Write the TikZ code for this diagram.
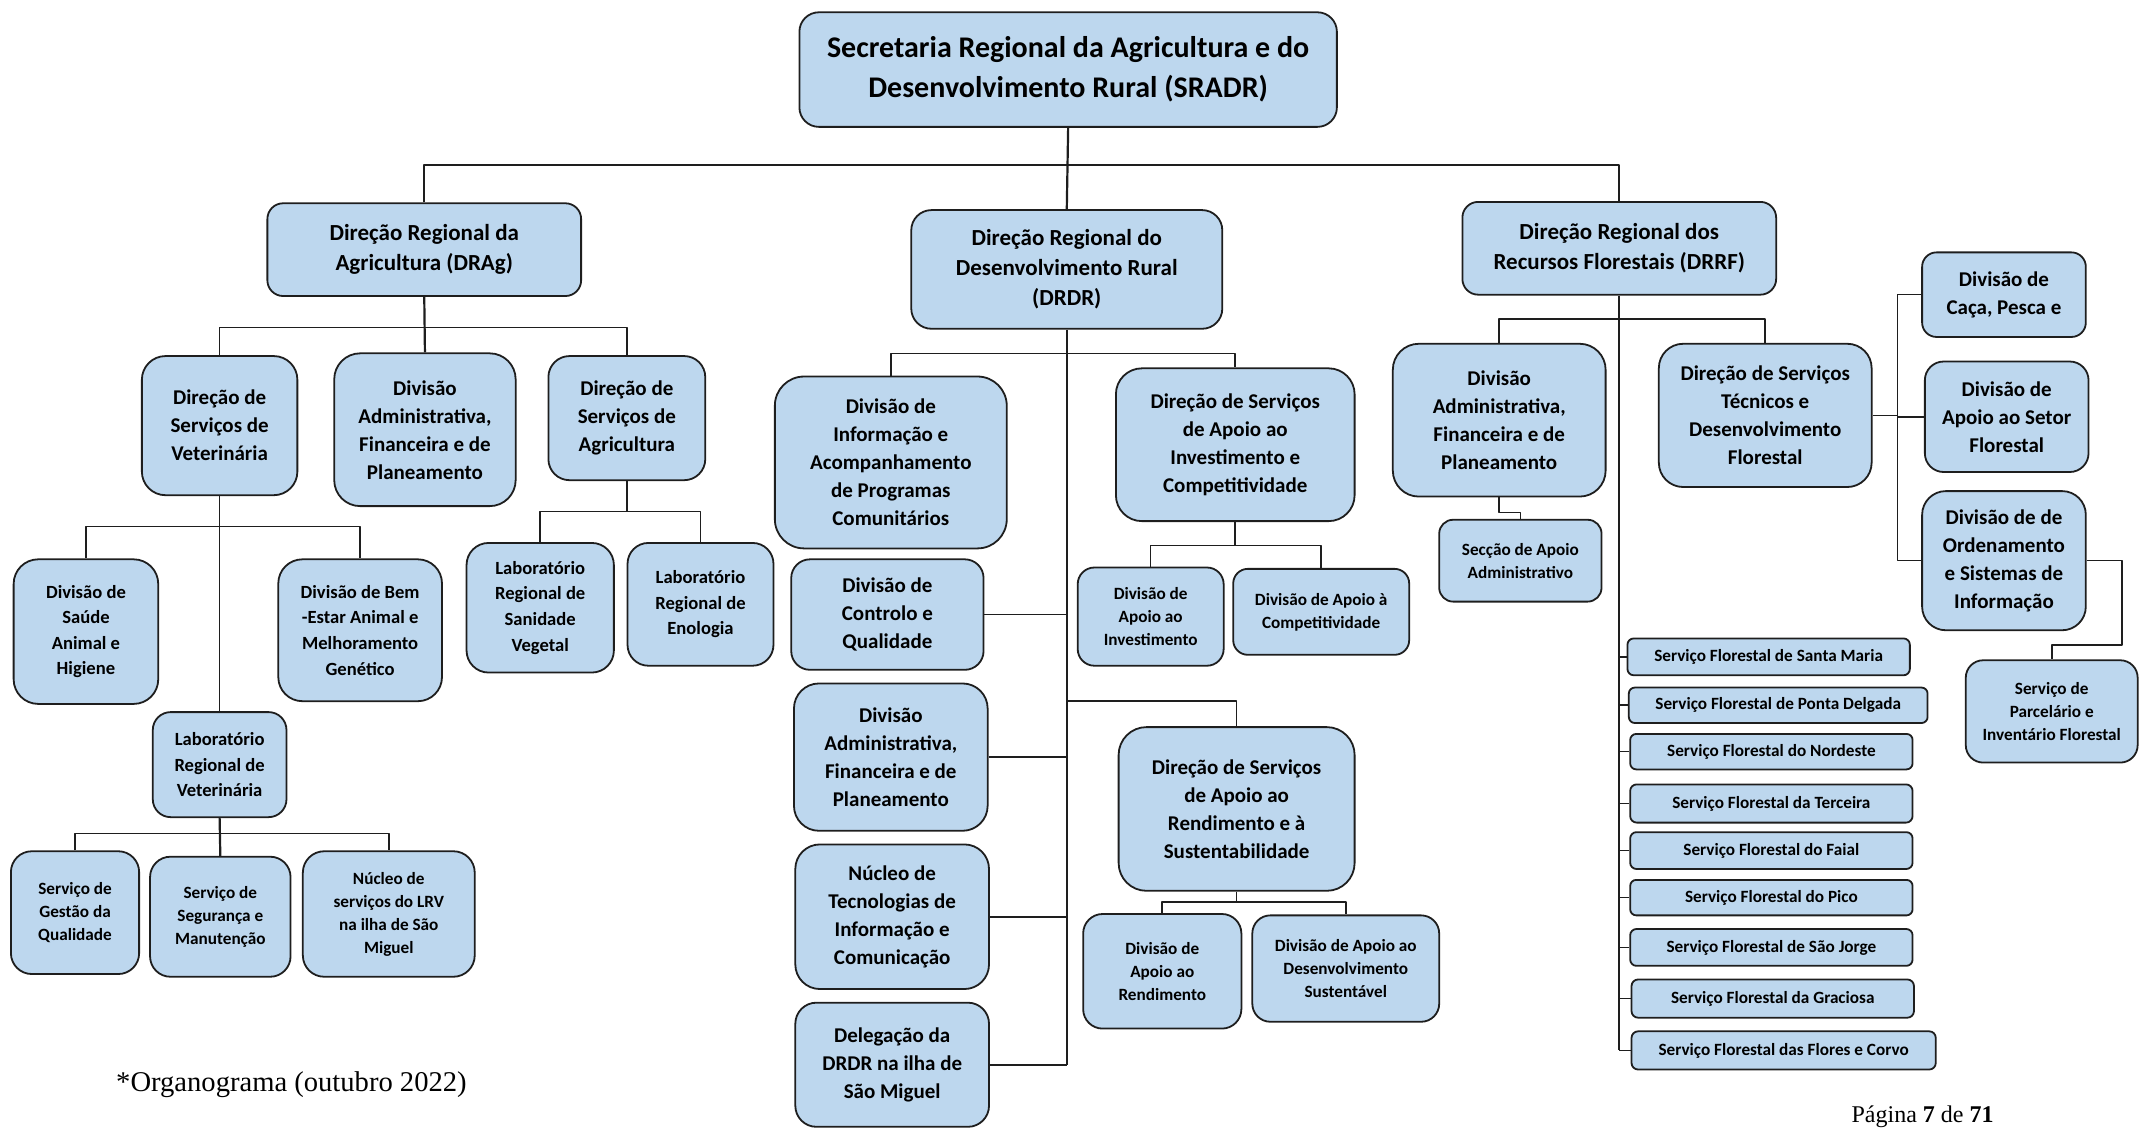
\documentclass[tikz,border=0pt]{standalone}
\usepackage{fontspec}
\setmainfont{Carlito}
\newfontfamily\timesfont{Liberation Serif}
\definecolor{boxblue}{RGB}{189,215,238}
\definecolor{boxline}{RGB}{30,30,30}
\newlength\unitpx
\setlength\unitpx{0.6821pt}
\tikzset{
  orgbox/.style={draw=boxline, fill=boxblue, line width=0.9pt, align=center, inner sep=1pt},
  link/.style={draw=boxline, line width=0.8pt},
  trunk/.style={link, line width=1.1pt},
  fTitle/.style={font=\fontsize{15}{20}\selectfont\bfseries},
  fHead/.style={font=\fontsize{11.5}{15}\selectfont\bfseries},
  fMid/.style={font=\fontsize{10.5}{14}\selectfont\bfseries},
  fSub/.style={font=\fontsize{9.3}{12.8}\selectfont\bfseries},
  fSmall/.style={font=\fontsize{8.6}{11.5}\selectfont\bfseries},
}
% box from (x1,y1) to (x2,y2), y counted downwards
\newcommand\orgnode[7][]{%
  \pgfmathsetmacro\obw{#5-#3}%
  \pgfmathsetmacro\obh{#6-#4}%
  \pgfmathsetmacro\obr{0.17*min(\obw,\obh)}%
  \node[orgbox, minimum width=\obw*\unitpx, minimum height=\obh*\unitpx,
        rounded corners=\obr*\unitpx, #1] (#2) at ({(#3+#5)/2},{(#4+#6)/2}) {#7};}

\begin{document}
\begin{tikzpicture}[x=0.6821pt, y=-0.6821pt, line join=round]
\useasboundingbox (0,0) rectangle (1568,828);

% secretaria e direcoes regionais
\orgnode[fTitle]{sradr}{586}{9}{980}{93}{Secretaria Regional da Agricultura e do\\Desenvolvimento Rural (SRADR)}
\orgnode[fHead]{drag}{196}{149}{426}{217}{Direção Regional da\\Agricultura (DRAg)}
\orgnode[fHead]{drdr}{668}{154}{896}{241}{Direção Regional do\\Desenvolvimento Rural\\(DRDR)}
\orgnode[fHead]{drrf}{1072}{148}{1302}{216}{Direção Regional dos\\Recursos Florestais (DRRF)}

% DRAg
\orgnode[fMid]{dsv}{104}{261}{218}{363}{Direção de\\Serviços de\\Veterinária}
\orgnode[fMid]{dafpa}{245}{259}{378}{371}{Divisão\\Administrativa,\\Financeira e de\\Planeamento}
\orgnode[fMid]{dsa}{402}{261}{517}{352}{Direção de\\Serviços de\\Agricultura}
\orgnode[fSub]{saude}{10}{410}{116}{516}{Divisão de\\Saúde\\Animal e\\Higiene}
\orgnode[fSub]{bemestar}{204}{410}{324}{514}{Divisão de Bem\\-Estar Animal e\\Melhoramento\\Genético}
\orgnode[fSub]{lrv}{112}{522}{210}{599}{Laboratório\\Regional de\\Veterinária}
\orgnode[fSmall]{gestao}{8}{624}{102}{714}{Serviço de\\Gestão da\\Qualidade}
\orgnode[fSmall]{seg}{110}{628}{213}{716}{Serviço de\\Segurança e\\Manutenção}
\orgnode[fSmall]{nucleolrv}{222}{624}{348}{716}{Núcleo de\\serviços do LRV\\na ilha de São\\Miguel}
\orgnode[fSub]{labsv}{342}{398}{450}{493}{Laboratório\\Regional de\\Sanidade\\Vegetal}
\orgnode[fSub]{labeno}{460}{398}{567}{488}{Laboratório\\Regional de\\Enologia}

% DRDR
\orgnode[fMid]{divinfo}{568}{276}{738}{402}{Divisão de\\Informação e\\Acompanhamento\\de Programas\\Comunitários}
\orgnode[fMid]{ctrl}{580}{410}{721}{491}{Divisão de\\Controlo e\\Qualidade}
\orgnode[fMid]{dafpb}{582}{501}{724}{609}{Divisão\\Administrativa,\\Financeira e de\\Planeamento}
\orgnode[fMid]{nucleoti}{583}{619}{725}{725}{Núcleo de\\Tecnologias de\\Informação e\\Comunicação}
\orgnode[fMid]{deleg}{583}{735}{725}{826}{Delegação da\\DRDR na ilha de\\São Miguel}
\orgnode[fMid]{dsinv}{818}{270}{993}{382}{Direção de Serviços\\de Apoio ao\\Investimento e\\Competitividade}
\orgnode[fSmall]{divinv}{790}{416}{897}{488}{Divisão de\\Apoio ao\\Investimento}
\orgnode[fSmall]{divcomp}{904}{417}{1033}{480}{Divisão de Apoio à\\Competitividade}
\orgnode[fMid]{dsrend}{820}{533}{993}{653}{Direção de Serviços\\de Apoio ao\\Rendimento e à\\Sustentabilidade}
\orgnode[fSmall]{divrend}{794}{670}{910}{754}{Divisão de\\Apoio ao\\Rendimento}
\orgnode[fSmall]{divdes}{918}{671}{1055}{749}{Divisão de Apoio ao\\Desenvolvimento\\Sustentável}

% DRRF
\orgnode[fMid]{dafpc}{1021}{252}{1177}{364}{Divisão\\Administrativa,\\Financeira e de\\Planeamento}
\orgnode[fSmall]{seccao}{1055}{381}{1174}{441}{Secção de Apoio\\Administrativo}
\orgnode[fMid]{dstec}{1216}{252}{1372}{357}{Direção de Serviços\\Técnicos e\\Desenvolvimento\\Florestal}
\orgnode[fMid]{caca}{1409}{185}{1529}{247}{Divisão de\\Caça, Pesca e}
\orgnode[fMid]{setor}{1411}{265}{1531}{346}{Divisão de\\Apoio ao Setor\\Florestal}
\orgnode[fMid]{ord}{1409}{360}{1529}{462}{Divisão de de\\Ordenamento\\e Sistemas de\\Informação}
\orgnode[fSmall]{parc}{1441}{484}{1567}{559}{Serviço de\\Parcelário e\\Inventário Florestal}
\foreach \i/\xa/\ya/\xb/\yb/\txt in {
  1/1193/468/1400/495/Serviço Florestal de Santa Maria,
  2/1194/504/1413/530/Serviço Florestal de Ponta Delgada,
  3/1195/538/1402/564/Serviço Florestal do Nordeste,
  4/1195/575/1402/603/Serviço Florestal da Terceira,
  5/1195/610/1402/637/Serviço Florestal do Faial,
  6/1195/645/1402/671/Serviço Florestal do Pico,
  7/1195/681/1402/708/Serviço Florestal de São Jorge,
  8/1196/718/1403/746/Serviço Florestal da Graciosa,
  9/1196/756/1419/784/Serviço Florestal das Flores e Corvo}
  {\orgnode[fSmall]{sf\i}{\xa}{\ya}{\xb}{\yb}{\txt}}

% ligacoes
\draw[trunk] (sradr.south) -- (drdr.north);
\draw[link] (drag.north) -- (drag.north |- 0,121) -| (drrf.north);
\draw[trunk] (drag.south) -- (dafpa.north);
\draw[link] (dsv.north) -- (dsv.north |- 0,240) -| (dsa.north);
\draw[link] (dsv.south) -- (lrv.north);
\draw[link] (saude.north) -- (saude.north |- 0,386) -| (bemestar.north);
\draw[trunk] (lrv.south) -- (seg.north);
\draw[link] (gestao.north) -- (gestao.north |- 0,611) -| (nucleolrv.north);
\draw[link] (dsa.south) -- (dsa.south |- 0,375);
\draw[link] (labsv.north) -- (labsv.north |- 0,375) -| (labeno.north);

\draw[trunk] (drdr.south) -- (deleg.east -| drdr.south);
\draw[link] (divinfo.north) -- (divinfo.north |- 0,259) -| (dsinv.north);
\foreach \n in {ctrl,dafpb,nucleoti,deleg}
  \draw[link] (\n.east) -- (\n.east -| drdr.south);
\draw[link] (drdr.south |- 0,514) -| (dsrend.north);
\draw[link] (dsinv.south) -- (dsinv.south |- 0,400);
\draw[link] (divinv.north) -- (divinv.north |- 0,400) -| (divcomp.north);
\draw[link] (dsrend.south) -- (dsrend.south |- 0,661);
\draw[link] (divrend.north) -- (divrend.north |- 0,661) -| (divdes.north);

\draw[trunk] (drrf.south) -- (sf9.west -| drrf.south);
\draw[link] (dafpc.north) -- (dafpc.north |- 0,234) -| (dstec.north);
\draw[link] (dafpc.south) -- ++(0,11) -| (seccao.north);
\foreach \i in {1,...,9}
  \draw[link] (sf\i.west) -- (sf\i.west -| drrf.south);
\coordinate (rail) at (1391,0);
\draw[link] (dstec.east) -- (dstec.east -| rail);
\draw[link] (caca.west) -- (caca.west -| rail) -- (ord.west -| rail) -- (ord.west);
\draw[link] (setor.west) -- (setor.west -| rail);
\draw[link] (ord.east) -- ++(26,0) |- (parc.north |- 0,473) -- (parc.north);

% notas
\node[anchor=west, font=\timesfont\fontsize{14.3}{16}\selectfont] (nota) at (80,795) {*Organograma (outubro 2022)};
\node[anchor=base west, inner sep=0pt, font=\timesfont\fontsize{12}{14}\selectfont] (pagina) at (1357,823) {Página \textbf{7} de \textbf{71}};
\end{tikzpicture}
\end{document}
